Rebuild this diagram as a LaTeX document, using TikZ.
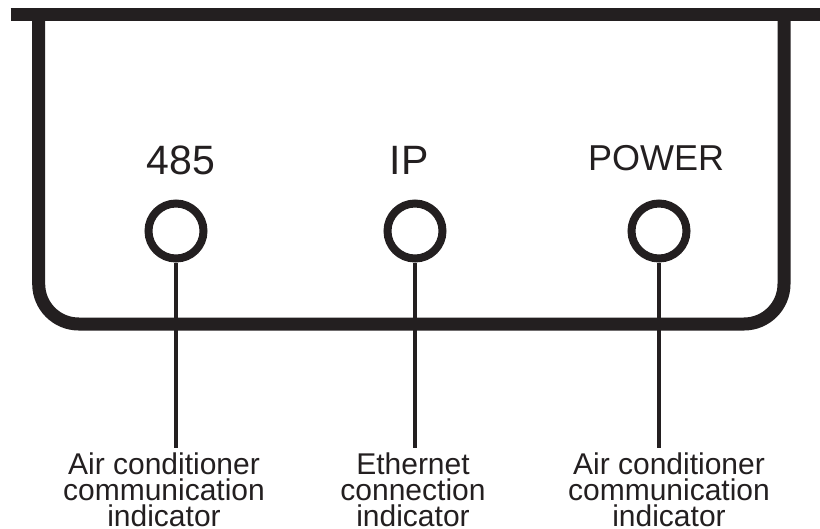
\documentclass[tikz,border=0pt]{standalone}
\usepackage{fontspec}
\setmainfont{Liberation Sans}
\definecolor{ink}{RGB}{35,31,32}

\tikzset{every picture/.style={line width=0.75pt}}
\tikzset{
  led/.style={draw=ink, circle, line width=8, minimum size=55, inner sep=0pt},
  ledname/.style={anchor=base, inner sep=0pt, text=ink},
  caption/.style={anchor=base, align=center, inner sep=4pt, text=ink, font=\fontsize{30}{26}\selectfont},
  leadwire/.style={draw=ink, line width=4},
}

\begin{document}
\begin{tikzpicture}[x=1pt,y=1pt,yscale=-1,xscale=1]
\useasboundingbox (0,0) rectangle (820,528);

%Shape: Panel
\draw [ink, line width=13] (10.5,14) -- (820,14) ;
\draw [ink, line width=13, rounded corners=40] (38.7,14) -- (38.7,324) -- (784,324) -- (784,14) ;

%Shape: Lamps
\node [led] (led485) at (176,231) {};
\node [led] (ledip) at (415,231) {};
\node [led] (ledpower) at (659,231) {};

% Text Node
\node [ledname, font=\fontsize{41}{41}\selectfont] (name485) at (181,174) {485};
% Text Node
\node [ledname, font=\fontsize{41}{41}\selectfont] (nameip) at (409,174) {IP};
% Text Node
\node [ledname, font=\fontsize{36}{36}\selectfont] (namepower) at (656,170) {POWER};

% Text Node (base is the last line)
\node [caption] (cap485) at (164,526) {Air conditioner\\communication\\indicator};
% Text Node
\node [caption] (capip) at (413,526) {Ethernet\\connection\\indicator};
% Text Node
\node [caption] (cappower) at (669,526) {Air conditioner\\communication\\indicator};

%Straight Lines
\draw [leadwire] (led485.south) -- (led485.south |- cap485.north) ;
\draw [leadwire] (ledip.south) -- (ledip.south |- capip.north) ;
\draw [leadwire] (ledpower.south) -- (ledpower.south |- cappower.north) ;
\end{tikzpicture}
\end{document}
